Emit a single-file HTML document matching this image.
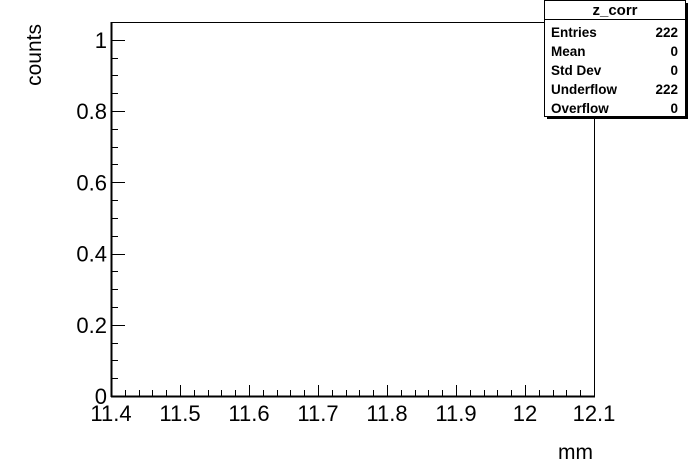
<!DOCTYPE html>
<html><head><meta charset="utf-8"><style>body{margin:0;background:#fff}svg{display:block;font-family:"Liberation Sans",Arial,sans-serif}</style></head>
<body>
<svg id="c" width="698" height="474">
<rect width="698" height="474" fill="#fff"/>
<g id="axes"></g>
<text x="41" y="24" font-size="21" transform="rotate(-90 41 24)" text-anchor="end">counts</text>
<text x="593" y="459" font-size="21" text-anchor="end">mm</text>
<g>
<rect x="547" y="3" width="141" height="116" fill="#000"/>
<rect x="544.5" y="0.5" width="141" height="116" fill="#fff" stroke="#000"/>
<line x1="544.5" y1="19.5" x2="685.5" y2="19.5" stroke="#000"/>
<text x="615" y="15" font-size="15" font-weight="bold" text-anchor="middle">z_corr</text>
<g font-size="13.5" font-weight="bold">
<text x="551" y="37">Entries</text><text x="678" y="37" text-anchor="end">222</text>
<text x="551" y="56">Mean</text><text x="678" y="56" text-anchor="end">0</text>
<text x="551" y="75">Std Dev</text><text x="678" y="75" text-anchor="end">0</text>
<text x="551" y="94">Underflow</text><text x="678" y="94" text-anchor="end">222</text>
<text x="551" y="113">Overflow</text><text x="678" y="113" text-anchor="end">0</text>
</g></g>
</svg>
<script>
const xTicks=["11.4","11.5","11.6","11.7","11.8","11.9","12","12.1"];
const yTicks=["0","0.2","0.4","0.6","0.8","1"];
const xMin=11.4,xMax=12.1,yMin=0,yMax=1.05;
const L=111,R=594,T=22,B=396;
const X=v=>L+(v-xMin)/(xMax-xMin)*(R-L);
const Y=v=>B-(v-yMin)/(yMax-yMin)*(B-T);
const g=document.getElementById('axes');
const NS="http://www.w3.org/2000/svg";
function el(t,a){const e=document.createElementNS(NS,t);for(const k in a)e.setAttribute(k,a[k]);g.appendChild(e);return e;}
const f=el('rect',{x:L+.5,y:T+.5,width:R-L,height:B-T,fill:'none',stroke:'#000'});


el('line',{x1:L,y1:B+.5,x2:R+1,y2:B+.5,stroke:'#000','stroke-width':2});
el('line',{x1:L+.5,y1:T,x2:L+.5,y2:B+1,stroke:'#000','stroke-width':2});
for(let i=0;i<=35;i++){const v=xMin+i*0.02;const x=Math.round(X(v))+.5;const len=i%5==0?11:6;
 el('line',{x1:x,y1:B,x2:x,y2:B-len,stroke:'#000'});}
xTicks.forEach(s=>{const t=el('text',{x:X(+s),y:B+25,'font-size':22,'text-anchor':'middle'});t.textContent=s;
 
 });
for(let i=0;i<=21;i++){const v=i*0.05;const y=Math.round(Y(v))+.5;const len=i%4==0?14:7;
 el('line',{x1:L,y1:y,x2:L+len,y2:y,stroke:'#000'});}
yTicks.forEach(s=>{const t=el('text',{x:L-4,y:Y(+s)+8,'font-size':22,'text-anchor':'end'});t.textContent=s;
 
 });
</script>
</body></html>
